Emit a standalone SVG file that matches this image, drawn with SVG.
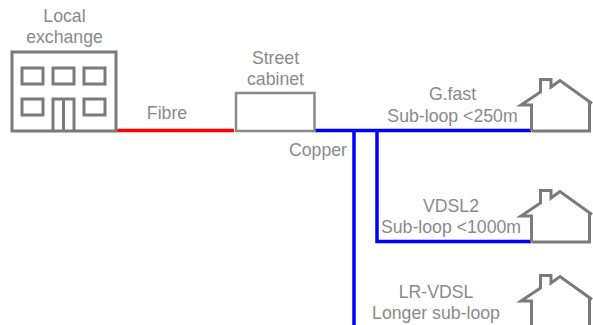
<svg xmlns="http://www.w3.org/2000/svg" width="593" height="325" viewBox="0 0 593 325">
<style>
.t{font-family:"Liberation Sans",Arial,sans-serif;font-size:17.7px;fill:#8a8a8a;text-anchor:middle}
.g{fill:none;stroke:#7a7a7a;stroke-width:3}
.b{fill:none;stroke:#0000ff;stroke-width:3.5}
</style>
<defs>
<path id="house" class="g" d="M531.5 131V105H521L540.5 92V79.500H551V87L560 80.500L592 103.500M589.500 102V131H531.500" style="stroke-linejoin:miter"/>
</defs>
<rect width="593" height="325" fill="#fff"/>
<g id="connectors">
<path d="M117 130.500H234" fill="none" stroke="#ff0000" stroke-width="3.500"/>
<path class="b" d="M315 130.500H531"/>
<path class="b" d="M354 130.500V325"/>
<path class="b" d="M377 130.500V241.500H531"/>
</g>
<g id="local-exchange">
<rect class="g" x="12" y="52" width="104" height="79"/>
<rect class="g" x="22" y="68" width="21" height="16"/>
<rect class="g" x="53" y="68" width="21" height="16"/>
<rect class="g" x="84" y="68" width="21" height="16"/>
<rect class="g" x="22" y="99" width="21" height="16"/>
<rect class="g" x="84" y="99" width="21" height="16"/>
<path class="g" d="M53 131V99H74V131M63.500 99V131"/>
<text class="t" x="64.500" y="22">Local</text>
<text class="t" x="64.500" y="43">exchange</text>
</g>
<g id="street-cabinet">
<rect x="236" y="93" width="78.500" height="38" fill="none" stroke="#8a8a8a" stroke-width="2.500"/>
<text class="t" x="275.500" y="64">Street</text>
<text class="t" x="275.500" y="85">cabinet</text>
</g>
<g id="house-gfast"><use href="#house"/></g>
<g id="house-vdsl2"><use href="#house" y="111"/></g>
<g id="house-lrvdsl"><use href="#house" y="196"/></g>
<g id="labels">
<text class="t" x="167" y="119">Fibre</text>
<text class="t" x="318" y="156">Copper</text>
<text class="t" x="452.500" y="100">G.fast</text>
<text class="t" x="452.500" y="122">Sub-loop &lt;250m</text>
<text class="t" x="451" y="212">VDSL2</text>
<text class="t" x="451" y="233">Sub-loop &lt;1000m</text>
<text class="t" x="436" y="298">LR-VDSL</text>
<text class="t" x="436" y="319">Longer sub-loop</text>
</g>
</svg>
